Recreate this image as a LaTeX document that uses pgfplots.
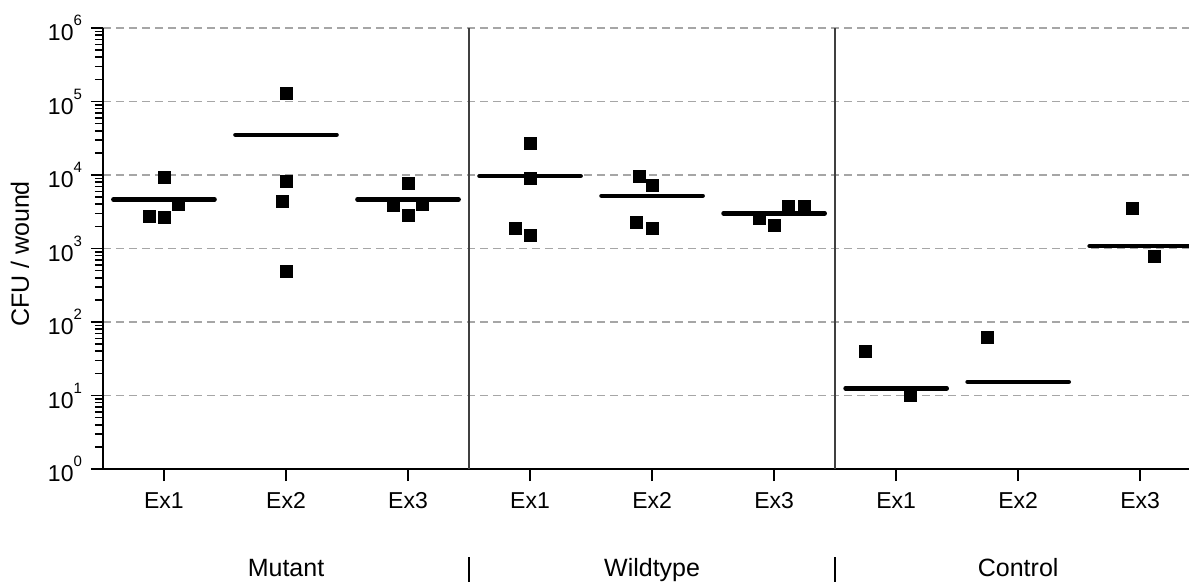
\documentclass[border=0pt]{standalone}
\usepackage{pgfplots}
\pgfplotsset{compat=1.18}
\usepackage{fontspec}
\setmainfont{Liberation Sans}

\newcommand{\dec}[1]{10\raisebox{7.5pt}{\fontsize{7.5}{8}\selectfont #1}}

\begin{document}
\begin{tikzpicture}
	\begin{axis}[
		scale only axis,
		width=543pt, height=220.5pt,
		ymode=log,
		xmin=-0.5, xmax=8.4,
		ymin=1, ymax=1000000,
		axis x line*=bottom,
		axis y line*=left,
		axis line style={line width=1.2pt},
		tick align=outside,
		major tick length=6pt,
		minor tick length=4pt,
		tick style={line width=0.8pt, black},
		xtick={0,1,2,3,4,5,6,7,8},
		xticklabels={Ex1,Ex2,Ex3,Ex1,Ex2,Ex3,Ex1,Ex2,Ex3},
		ytick={1,10,100,1000,10000,100000,1000000},
		yticklabels={\dec{0},\dec{1},\dec{2},\dec{3},\dec{4},\dec{5},\dec{6}},
		tick label style={font=\fontsize{11.5}{13}\selectfont},
		xticklabel style={text height=8.6pt, text depth=0pt, yshift=-1.5pt},
		yticklabel style={xshift=-1pt},
		ymajorgrids,
		major grid style={gray!70, line width=0.9pt, dash pattern=on 4pt off 2.5pt},
		ylabel={CFU / wound},
		ylabel style={font=\fontsize{12.5}{15}\selectfont, at={(axis description cs:-0.0764,0.4875)}, anchor=center},
		clip mode=individual,
		]
		
		% group separators
		\addplot[black!75, line width=0.7pt] coordinates {(2.5,1) (2.5,1000000)};
		\addplot[black!75, line width=0.7pt] coordinates {(5.5,1) (5.5,1000000)};
		
		% individual wounds
		\addplot[only marks, mark=square*, mark size=3pt, black] coordinates {
			(-0.12,2710) (0,9300) (0,2630) (0.12,4030)
			(1,129000) (1,8100) (0.97,4390) (1,490)
			(2,7700) (1.88,3870) (2,2860) (2.12,4030)
			(3,27000) (3,8900) (2.88,1900) (3,1530)
			(3.9,9690) (4,7240) (3.87,2290) (4,1860)
			(4.88,2570) (5,2040) (5.12,3700) (5.25,3700)
			(5.75,40.3) (6.12,10.2)
			(6.75,61)
			(7.94,3520) (8.12,790)
		};
		
		% means
		\addplot[black, line width=2.2pt, line cap=round] coordinates {(-0.415,4670) (0.415,4670)};
		\addplot[black, line width=2.2pt, line cap=round] coordinates {(0.585,35300) (1.415,35300)};
		\addplot[black, line width=2.2pt, line cap=round] coordinates {(1.585,4670) (2.415,4670)};
		\addplot[black, line width=2.2pt, line cap=round] coordinates {(2.585,9690) (3.415,9690)};
		\addplot[black, line width=2.2pt, line cap=round] coordinates {(3.585,5230) (4.415,5230)};
		\addplot[black, line width=2.2pt, line cap=round] coordinates {(4.585,3010) (5.415,3010)};
		\addplot[black, line width=2.2pt, line cap=round] coordinates {(5.585,12.5) (6.415,12.5)};
		\addplot[black, line width=2.2pt, line cap=round] coordinates {(6.585,15.4) (7.415,15.4)};
		\addplot[black, line width=2.2pt, line cap=round] coordinates {(7.585,1080) (8.415,1080)};
		
		% group names below the axis
		\node[font=\fontsize{12.5}{15}\selectfont, anchor=base, yshift=-53.5pt] at (axis cs:1,1) {Mutant};
		\node[font=\fontsize{12.5}{15}\selectfont, anchor=base, yshift=-53.5pt] at (axis cs:4,1) {Wildtype};
		\node[font=\fontsize{12.5}{15}\selectfont, anchor=base, yshift=-53.5pt] at (axis cs:7,1) {Control};
		\draw[black, line width=0.7pt] ([yshift=-44pt]axis cs:2.5,1) -- ([yshift=-58pt]axis cs:2.5,1);
		\draw[black, line width=0.7pt] ([yshift=-44pt]axis cs:5.5,1) -- ([yshift=-58pt]axis cs:5.5,1);
		
		\coordinate (bbsw) at (rel axis cs:-0.0948,-0.254);
		\coordinate (bbne) at (rel axis cs:1,1.0635);
	\end{axis}
	\pgfresetboundingbox
	\useasboundingbox (bbsw) rectangle (bbne);
\end{tikzpicture}
\end{document}
